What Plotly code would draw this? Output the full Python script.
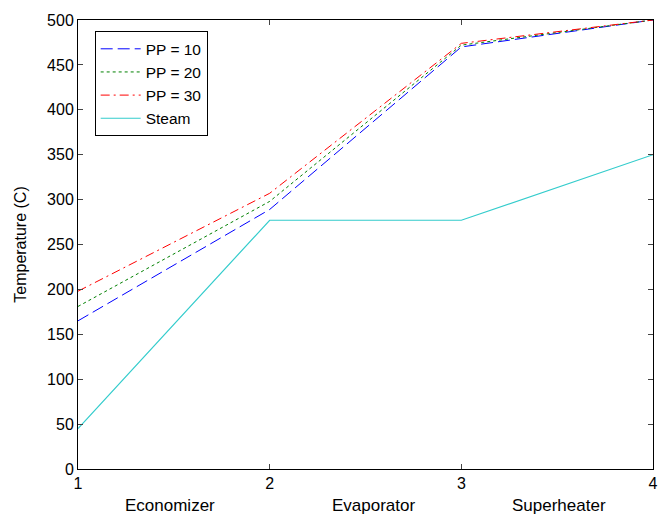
import plotly.graph_objects as go

x_pts = [1, 2, 3, 4]
pp10 = [165, 289, 470, 500]
pp20 = [181, 298, 472, 500]
pp30 = [198, 307, 474, 500]
steam = [45, 277, 277, 350]
section_labels = ["Economizer", "Evaporator", "Superheater"]
section_pos = [1.48, 2.54, 3.51]

FONT = "Liberation Sans, Arial"

fig = go.Figure()
fig.add_trace(go.Scatter(x=x_pts, y=pp10, mode="lines", name="PP = 10",
                         line=dict(color="#0000FF", width=1, dash="12px,5px")))
fig.add_trace(go.Scatter(x=x_pts, y=pp20, mode="lines", name="PP = 20",
                         line=dict(color="#008000", width=1, dash="3px,3px")))
fig.add_trace(go.Scatter(x=x_pts, y=pp30, mode="lines", name="PP = 30",
                         line=dict(color="#FF0000", width=1, dash="9px,4px,2px,4px")))
fig.add_trace(go.Scatter(x=x_pts, y=steam, mode="lines", name="Steam",
                         line=dict(color="#33CCCC", width=1.2)))

for lab, pos in zip(section_labels, section_pos):
    fig.add_annotation(x=pos, y=0, xref="x", yref="paper", yshift=-48,
                       text=lab, showarrow=False,
                       font=dict(size=17, color="black", family=FONT))

fig.update_layout(
    width=670, height=517,
    margin=dict(l=78, r=14, t=15, b=48),
    paper_bgcolor="white", plot_bgcolor="white",
    font=dict(family=FONT, size=16, color="black"),
    showlegend=True,
    legend=dict(x=0.029, y=0.975, xanchor="left", yanchor="top",
                bgcolor="white", bordercolor="black", borderwidth=1,
                font=dict(size=15.5), tracegroupgap=0, itemwidth=40),
    xaxis=dict(range=[1, 4], tickvals=[1, 2, 3, 4], ticks="inside", ticklen=5,
               showline=True, linecolor="black", linewidth=1, mirror="ticks",
               showgrid=False, zeroline=False, tickfont=dict(size=16)),
    yaxis=dict(range=[0, 500], tickvals=list(range(0, 501, 50)), ticks="inside", ticklen=5,
               showline=True, linecolor="black", linewidth=1, mirror="ticks",
               showgrid=False, zeroline=False, tickfont=dict(size=16),
               title=dict(text="Temperature (C)", font=dict(size=16), standoff=16)),
)

fig.write_html("out.html")
